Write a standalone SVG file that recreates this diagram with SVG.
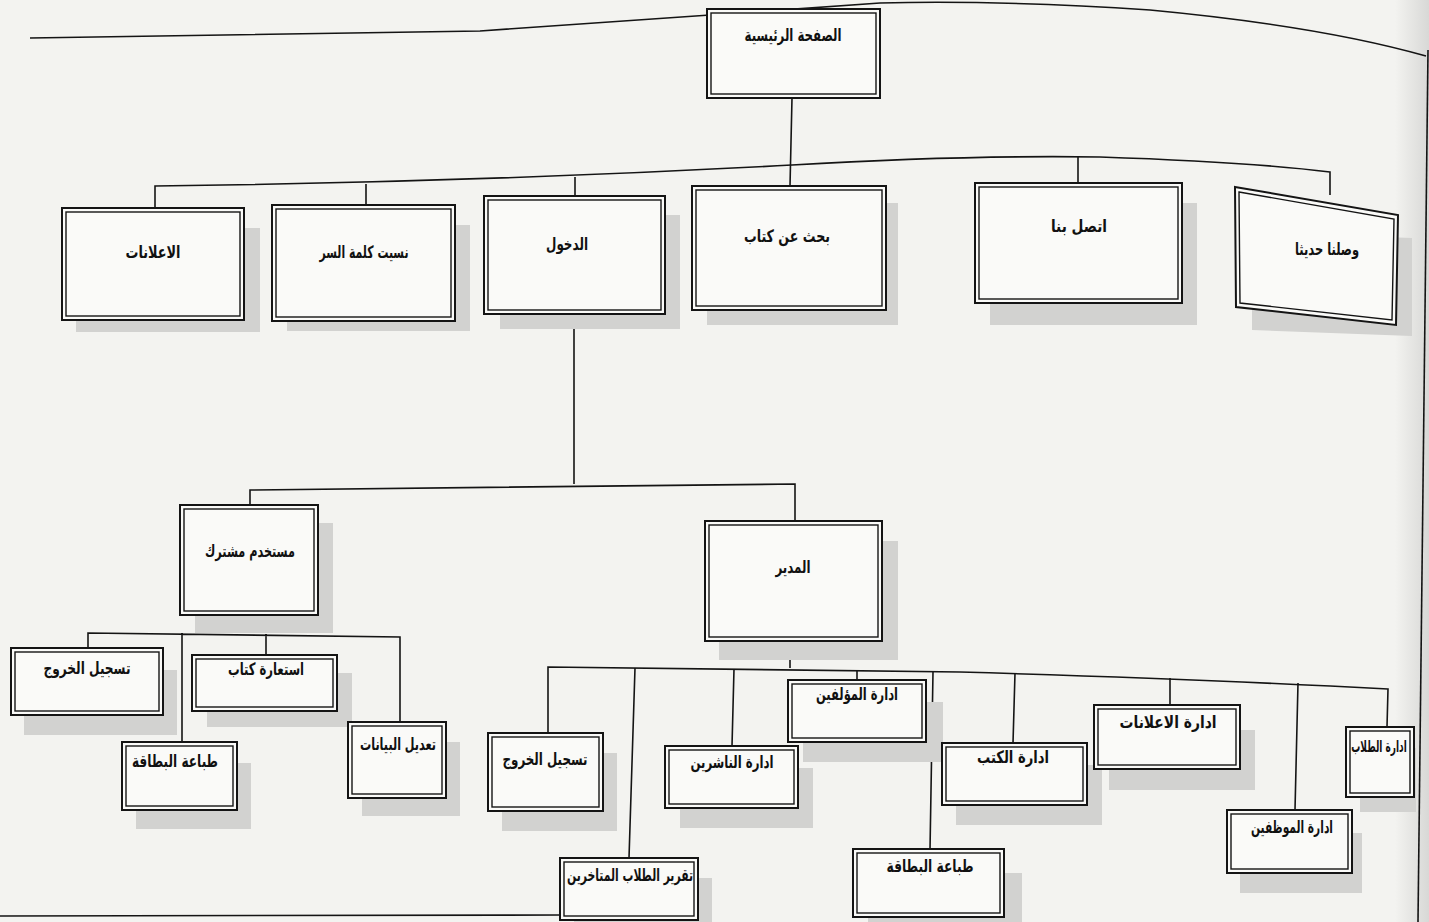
<svg xmlns="http://www.w3.org/2000/svg" width="1429" height="922" viewBox="0 0 1429 922">
<style>
.bg{fill:#f3f3f0}
.sh{fill:#d2d2d0}
.o{fill:#fafaf8;stroke:#141414;stroke-width:2}
.i{fill:none;stroke:#141414;stroke-width:1.4}
.c{fill:none;stroke:#141414;stroke-width:1.6}
.t{font-family:"DejaVu Sans",sans-serif;font-size:17px;font-weight:bold;fill:#111;text-anchor:middle}
</style>
<defs>
<clipPath id="pg"><rect x="0" y="0" width="1416" height="922"/></clipPath>
<linearGradient id="edge" x1="0" x2="1" y1="0" y2="0"><stop offset="0" stop-color="#f3f3f0"/><stop offset="1" stop-color="#d8d8d6"/></linearGradient>
</defs>
<rect class="bg" x="0" y="0" width="1429" height="922"/>
<rect x="1395" y="0" width="34" height="922" fill="url(#edge)"/>
<g id="connectors">
<path class="c" d="M30,38 L480,31 Q640,20 710,15 L880,3 Q1000,0 1150,10 Q1320,26 1426,56"/>
<path class="c" d="M0,916 L560,915"/>
<path class="c" d="M1428,50 L1418,922"/>
<path class="c" d="M155,208 L155,186 Q480,182 792,165 Q960,155 1100,157 Q1250,162 1330,172 L1330,195"/>
<path class="c" d="M366,184 L366,205 M575,177 L575,197 M792,98 L790,186 M1078,157 L1078,183"/>
<path class="c" d="M574,314 L574,484 M250,505 L250,490 L795,484 L795,521"/>
<path class="c" d="M248,615 L248,633 M88,648 L88,633 L400,637 L400,722 M182,633 L182,743 M266,634 L266,655"/>
<path class="c" d="M790,641 L790,668 M548,733 L548,667 L960,672 Q1200,679 1388,689 L1387,727"/>
<path class="c" d="M635,668 L629,858 M734,669 L732,746 M857,670 L857,681 M933,672 L930,850 M1015,673 L1013,743 M1170,678 L1170,705 M1298,683 L1295,810"/>
</g>
<g id="n-root">
<rect class="o" x="707" y="9" width="173" height="89"/><rect class="i" x="711" y="13" width="165" height="81"/>
<text class="t" x="793" y="41" textLength="97" lengthAdjust="spacingAndGlyphs">الصفحة الرئيسية</text>
</g>
<g id="n-ads">
<rect class="sh" x="76" y="228" width="184" height="104"/>
<rect class="o" x="62" y="208" width="182" height="112"/><rect class="i" x="66" y="212" width="174" height="104"/>
<text class="t" x="153" y="258" textLength="55" lengthAdjust="spacingAndGlyphs">الاعلانات</text>
</g>
<g id="n-forgot">
<rect class="sh" x="287" y="225" width="183" height="106"/>
<rect class="o" x="272" y="205" width="183" height="116"/><rect class="i" x="276" y="209" width="175" height="108"/>
<text class="t" x="364" y="258" textLength="89" lengthAdjust="spacingAndGlyphs">نسيت كلمة السر</text>
</g>
<g id="n-login">
<rect class="sh" x="500" y="215" width="180" height="114"/>
<rect class="o" x="484" y="196" width="181" height="118"/><rect class="i" x="488" y="200" width="173" height="110"/>
<text class="t" x="567" y="250" textLength="42" lengthAdjust="spacingAndGlyphs">الدخول</text>
</g>
<g id="n-search">
<rect class="sh" x="707" y="203" width="191" height="122"/>
<rect class="o" x="692" y="186" width="194" height="124"/><rect class="i" x="696" y="190" width="186" height="116"/>
<text class="t" x="787" y="242" textLength="86" lengthAdjust="spacingAndGlyphs">بحث عن كتاب</text>
</g>
<g id="n-contact">
<rect class="sh" x="990" y="203" width="207" height="122"/>
<rect class="o" x="975" y="183" width="207" height="120"/><rect class="i" x="979" y="187" width="199" height="112"/>
<text class="t" x="1079" y="232" textLength="56" lengthAdjust="spacingAndGlyphs">اتصل بنا</text>
</g>
<g id="n-new" clip-path="url(#pg)">
<polygon class="sh" points="1252,232 1412,238 1412,336 1252,330"/>
<polygon class="o" points="1235,187 1398,215 1396,325 1236,307"/>
<polygon class="i" points="1239,192 1394,219 1392,320 1240,303"/>
<text class="t" x="1327" y="255" textLength="64" lengthAdjust="spacingAndGlyphs">وصلنا حديثا</text>
</g>
<g id="n-user">
<rect class="sh" x="195" y="523" width="138" height="110"/>
<rect class="o" x="180" y="505" width="138" height="110"/><rect class="i" x="184" y="509" width="130" height="102"/>
<text class="t" x="250" y="557" textLength="90" lengthAdjust="spacingAndGlyphs">مستخدم مشترك</text>
</g>
<g id="n-admin">
<rect class="sh" x="719" y="541" width="179" height="119"/>
<rect class="o" x="705" y="521" width="177" height="120"/><rect class="i" x="709" y="525" width="169" height="112"/>
<text class="t" x="793" y="573" textLength="35" lengthAdjust="spacingAndGlyphs">المدير</text>
</g>
<g id="n-u-logout">
<rect class="sh" x="24" y="670" width="153" height="65"/>
<rect class="o" x="11" y="648" width="152" height="67"/><rect class="i" x="15" y="652" width="144" height="59"/>
<text class="t" x="87" y="674" textLength="87" lengthAdjust="spacingAndGlyphs">تسجيل الخروج</text>
</g>
<g id="n-u-borrow">
<rect class="sh" x="207" y="673" width="145" height="54"/>
<rect class="o" x="192" y="655" width="145" height="56"/><rect class="i" x="196" y="659" width="137" height="48"/>
<text class="t" x="266" y="675" textLength="76" lengthAdjust="spacingAndGlyphs">استعارة كتاب</text>
</g>
<g id="n-u-card">
<rect class="sh" x="136" y="763" width="115" height="66"/>
<rect class="o" x="122" y="742" width="115" height="68"/><rect class="i" x="126" y="746" width="107" height="60"/>
<text class="t" x="175" y="767" textLength="86" lengthAdjust="spacingAndGlyphs">طباعة البطاقة</text>
</g>
<g id="n-u-edit">
<rect class="sh" x="362" y="742" width="98" height="74"/>
<rect class="o" x="348" y="722" width="98" height="76"/><rect class="i" x="352" y="726" width="90" height="68"/>
<text class="t" x="398" y="750" textLength="76" lengthAdjust="spacingAndGlyphs">تعديل البيانات</text>
</g>
<g id="n-a-logout">
<rect class="sh" x="502" y="753" width="115" height="78"/>
<rect class="o" x="488" y="733" width="115" height="78"/><rect class="i" x="492" y="737" width="107" height="70"/>
<text class="t" x="545" y="765" textLength="85" lengthAdjust="spacingAndGlyphs">تسجيل الخروج</text>
</g>
<g id="n-a-late">
<rect class="sh" x="574" y="878" width="138" height="50"/>
<rect class="o" x="560" y="858" width="138" height="62"/><rect class="i" x="564" y="862" width="130" height="54"/>
<text class="t" x="630" y="881" textLength="126" lengthAdjust="spacingAndGlyphs">تقرير الطلاب المتاخرين</text>
</g>
<g id="n-a-publishers">
<rect class="sh" x="680" y="768" width="133" height="60"/>
<rect class="o" x="665" y="746" width="133" height="62"/><rect class="i" x="669" y="750" width="125" height="54"/>
<text class="t" x="732" y="768" textLength="83" lengthAdjust="spacingAndGlyphs">ادارة الناشرين</text>
</g>
<g id="n-a-authors">
<rect class="sh" x="803" y="702" width="140" height="60"/>
<rect class="o" x="788" y="680" width="138" height="62"/><rect class="i" x="792" y="684" width="130" height="54"/>
<text class="t" x="857" y="700" textLength="82" lengthAdjust="spacingAndGlyphs">ادارة المؤلفين</text>
</g>
<g id="n-a-card">
<rect class="sh" x="868" y="873" width="154" height="60"/>
<rect class="o" x="853" y="849" width="151" height="68"/><rect class="i" x="857" y="853" width="143" height="60"/>
<text class="t" x="930" y="872" textLength="87" lengthAdjust="spacingAndGlyphs">طباعة البطاقة</text>
</g>
<g id="n-a-books">
<rect class="sh" x="956" y="765" width="146" height="60"/>
<rect class="o" x="942" y="743" width="145" height="62"/><rect class="i" x="946" y="747" width="137" height="54"/>
<text class="t" x="1013" y="763" textLength="72" lengthAdjust="spacingAndGlyphs">ادارة الكتب</text>
</g>
<g id="n-a-ads">
<rect class="sh" x="1109" y="730" width="146" height="60"/>
<rect class="o" x="1094" y="705" width="146" height="64"/><rect class="i" x="1098" y="709" width="138" height="56"/>
<text class="t" x="1168" y="728" textLength="97" lengthAdjust="spacingAndGlyphs">ادارة الاعلانات</text>
</g>
<g id="n-a-staff">
<rect class="sh" x="1240" y="833" width="122" height="60"/>
<rect class="o" x="1227" y="810" width="125" height="63"/><rect class="i" x="1231" y="814" width="117" height="55"/>
<text class="t" x="1292" y="833" textLength="82" lengthAdjust="spacingAndGlyphs">ادارة الموظفين</text>
</g>
<g id="n-a-students">
<rect class="sh" x="1360" y="748" width="56" height="64"/>
<rect class="o" x="1346" y="727" width="68" height="70"/><rect class="i" x="1350" y="731" width="60" height="62"/>
<text class="t" style="font-size:10px" transform="translate(1379,752) scale(0.9,1.6)" x="0" y="0">ادارة الطلاب</text>
</g>
</svg>
